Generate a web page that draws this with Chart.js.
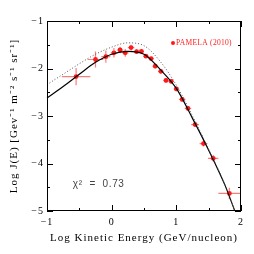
<!DOCTYPE html>
<html>
<head>
<meta charset="utf-8">
<script src="https://cdn.jsdelivr.net/npm/chart.js@4.4.1/dist/chart.umd.min.js"></script>
<style>
    html, body { margin: 0; padding: 0; background: #fff; }
</style>
</head>
<body>
<canvas id="fluxChart" width="254" height="254"></canvas>
<script>
    // PAMELA (2010) data points, log10 values
    const energy = [-0.55, -0.25, -0.09, 0.035, 0.13, 0.21, 0.30, 0.386, 0.46, 0.53, 0.61,
        0.674, 0.76, 0.84, 0.92, 1.0, 1.09, 1.18, 1.29, 1.42, 1.57, 1.82];
    const flux = [-2.17, -1.81, -1.75, -1.67, -1.61, -1.67, -1.56, -1.645, -1.64, -1.74, -1.79,
        -1.95, -2.06, -2.25, -2.27, -2.43, -2.65, -2.84, -3.18, -3.58, -3.89, -4.63];
    const energyErr = [0.22, 0.12, 0.07, 0.05, 0.05, 0.05, 0.05, 0.04, 0.04, 0.04, 0.04,
        0.04, 0.04, 0.04, 0.04, 0.04, 0.05, 0.05, 0.06, 0.06, 0.08, 0.17];
    const fluxErr = [0.18, 0.17, 0.13, 0.1, 0.07, 0.08, 0.06, 0.05, 0.05, 0.04, 0.04,
        0.05, 0.05, 0.05, 0.05, 0.05, 0.05, 0.05, 0.05, 0.06, 0.07, 0.12];

    // model curves
    const modelE = [-1, -0.75, -0.5, -0.25, 0, 0.25, 0.5, 0.75, 1.0, 1.25, 1.5, 1.75, 1.905];
    const modelSolid = [-2.62, -2.38, -2.12, -1.87, -1.70, -1.64, -1.70, -2.02, -2.42, -3.05, -3.72, -4.45, -5.0];
    const modelDotted = [-2.34, -2.12, -1.90, -1.70, -1.55, -1.46, -1.52, -1.85, -2.35, -3.0, -3.70, -4.44, -5.0];

    const xTicks = [-1, 0, 1, 2];
    const yTicks = [-5, -4, -3, -2, -1];

    const serif = "'Liberation Serif', serif";
    const fmt = (v) => String(v).replace("-", "\u2212");

    const toPoints = (xs, ys) => xs.map((x, i) => ({ x: x, y: ys[i] }));

    // frame, inward ticks, error bars, legend and chi-square note
    const decor = {
        id: "decor",
        beforeDraw(chart) {
            // the reference font is much wider than Times
            chart.ctx.letterSpacing = "1px";
        },
        beforeDatasetsDraw(chart) {
            const ctx = chart.ctx;
            const xs = chart.scales.x, ys = chart.scales.y;
            ctx.save();
            ctx.strokeStyle = "rgba(245, 70, 70, 0.7)";
            ctx.lineWidth = 1.2;
            energy.forEach((e, i) => {
                const px = xs.getPixelForValue(e);
                const py = ys.getPixelForValue(flux[i]);
                ctx.beginPath();
                ctx.moveTo(xs.getPixelForValue(e - energyErr[i]), py);
                ctx.lineTo(xs.getPixelForValue(e + energyErr[i]), py);
                ctx.moveTo(px, ys.getPixelForValue(flux[i] - fluxErr[i]));
                ctx.lineTo(px, ys.getPixelForValue(flux[i] + fluxErr[i]));
                ctx.stroke();
            });
            ctx.restore();
        },
        afterDraw(chart) {
            const ctx = chart.ctx;
            const a = chart.chartArea;
            const xs = chart.scales.x, ys = chart.scales.y;
            ctx.save();
            ctx.strokeStyle = "#000";
            ctx.lineWidth = 1;
            ctx.strokeRect(a.left + 0.5, a.top + 0.5, a.right - a.left - 1, a.bottom - a.top - 1);
            ctx.beginPath();
            for (let v = -1; v <= 2.001; v += 0.5) {
                const px = Math.round(xs.getPixelForValue(v)) + 0.5;
                const len = Number.isInteger(v) ? 6 : 3;
                ctx.moveTo(px, a.bottom); ctx.lineTo(px, a.bottom - len);
                ctx.moveTo(px, a.top); ctx.lineTo(px, a.top + len);
            }
            for (let v = -5; v <= -0.999; v += 0.5) {
                const py = Math.round(ys.getPixelForValue(v)) + 0.5;
                const len = Number.isInteger(v) ? 6 : 3;
                ctx.moveTo(a.left, py); ctx.lineTo(a.left + len, py);
                ctx.moveTo(a.right, py); ctx.lineTo(a.right - len, py);
            }
            ctx.stroke();

            // legend
            ctx.letterSpacing = "0.3px";
            ctx.fillStyle = "#ff1a1a";
            ctx.beginPath();
            ctx.arc(a.left + 126, a.top + 22, 2, 0, Math.PI * 2);
            ctx.fill();
            ctx.font = "7.5px " + serif;
            ctx.textBaseline = "middle";
            ctx.fillText("PAMELA (2010)", a.left + 129, a.top + 22);

            // chi-square
            ctx.letterSpacing = "0.6px";
            ctx.fillStyle = "#444";
            ctx.font = "10px 'Liberation Sans'";
            ctx.fillText("\u03c7\u00b2  =  0.73", xs.getPixelForValue(-0.6), ys.getPixelForValue(-4.43));
            ctx.restore();
        }
    };

    const ctx = document.getElementById("fluxChart").getContext("2d");
    const fluxChart = new Chart(ctx, {
        type: "scatter",
        data: {
            datasets: [
                {
                    label: "model (dotted)",
                    data: toPoints(modelE, modelDotted),
                    showLine: true,
                    borderColor: "#555",
                    borderWidth: 1,
                    borderDash: [1, 2],
                    pointRadius: 0,
                    cubicInterpolationMode: "monotone",
                },
                {
                    label: "model",
                    data: toPoints(modelE, modelSolid),
                    showLine: true,
                    borderColor: "#000",
                    borderWidth: 1.2,
                    pointRadius: 0,
                    cubicInterpolationMode: "monotone",
                },
                {
                    label: "PAMELA (2010)",
                    data: toPoints(energy, flux),
                    backgroundColor: "#ff1a1a",
                    borderColor: "#ff1a1a",
                    pointRadius: 2.4,
                    pointBorderWidth: 0,
                },
            ],
        },
        options: {
            responsive: false,
            animation: false,
            clip: false,
            layout: { padding: { top: 21, right: 13, left: 0, bottom: 0 } },
            plugins: { legend: { display: false }, tooltip: { enabled: false } },
            scales: {
                x: {
                    type: "linear",
                    min: -1,
                    max: 2,
                    afterFit: (s) => { s.height = 43; },
                    afterBuildTicks: (s) => { s.ticks = xTicks.map((v) => ({ value: v })); },
                    grid: { display: false, drawTicks: false },
                    border: { display: false },
                    ticks: {
                        padding: 5,
                        color: "#000",
                        font: { family: serif, size: 10 },
                        callback: fmt,
                    },
                    title: {
                        display: true,
                        text: "Log Kinetic Energy (GeV/nucleon)",
                        color: "#000",
                        font: { family: serif, size: 11 },
                        padding: { top: 0, bottom: 9 },
                    },
                },
                y: {
                    type: "linear",
                    min: -5,
                    max: -1,
                    afterFit: (s) => { s.width = 47; },
                    afterBuildTicks: (s) => { s.ticks = yTicks.map((v) => ({ value: v })); },
                    grid: { display: false, drawTicks: false },
                    border: { display: false },
                    ticks: {
                        padding: 3,
                        color: "#000",
                        font: { family: serif, size: 10 },
                        callback: fmt,
                    },
                    title: {
                        display: true,
                        text: "Log J(E) [Gev\u207b\u00b9 m\u207b\u00b2 s\u207b\u00b9 sr\u207b\u00b9]",
                        color: "#000",
                        font: { family: serif, size: 11 },
                        padding: { top: 8, bottom: 0 },
                    },
                },
            },
        },
        plugins: [decor],
    });
</script>
</body>
</html>
